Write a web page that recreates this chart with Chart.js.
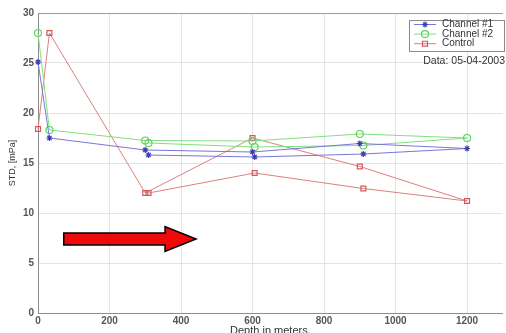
<!DOCTYPE html>
<html>
<head>
<meta charset="utf-8">
<script src="https://cdn.jsdelivr.net/npm/chart.js@4/dist/chart.umd.min.js"></script>
<style>
  html, body { margin: 0; padding: 0; background: #fff; overflow: hidden; }
  #wrap { width: 506px; height: 333px; overflow: hidden; }
</style>
</head>
<body>
<div id="wrap"><canvas id="stdChart" width="508" height="333"></canvas></div>
<script>
// depth path: down-cast then back up (same order for every series)
const depths   = [0, 32, 300, 600, 900, 1200, 910, 606, 309];
const channel1 = [25.1, 17.5, 16.3, 16.1, 16.95, 16.45, 15.9, 15.6, 15.8];
const channel2 = [28.0, 18.3, 17.25, 17.2, 17.9, 17.5, 16.75, 16.6, 17.0];
const control  = [18.4, 28.0, 12.0, 17.5, 14.65, 11.2, 12.45, 14.0, 12.0];

const xTicks = [0, 200, 400, 600, 800, 1000, 1200];
const yTicks = [0, 5, 10, 15, 20, 25, 30];

const seriesNames = ['Channel #1', 'Channel #2', 'Control'];
const dateNote = 'Data: 05-04-2003';

// arrow annotation, in data units
const arrowFrom = { x: 72, y: 7.4 };
const arrowTo   = { x: 442, y: 7.4 };

const FONT = '"Liberation Sans", Arial, sans-serif';

function pts(ys) {
    return depths.map((d, i) => ({ x: d, y: ys[i] }));
}

const styles = [
    { line: '#7878d4', mark: '#3c3cb4', style: 'star',   r: 3 },
    { line: '#80e080', mark: '#5ad45a', style: 'circle', r: 3.5 },
    { line: '#dc8080', mark: '#d45a5a', style: 'rect',   r: 3.5 }
];

function makeSet(label, ys, s) {
    return {
        label: label,
        data: pts(ys),
        showLine: true,
        borderColor: s.line,
        borderWidth: 1,
        tension: 0,
        pointStyle: s.style,
        pointRadius: s.r,
        pointBorderColor: s.mark,
        pointBackgroundColor: 'rgba(0,0,0,0)',
        pointBorderWidth: 1.2,
        clip: false
    };
}

const overlay = {
    id: 'overlay',
    afterDatasetsDraw(chart) {
        const ctx = chart.ctx;
        const xs = chart.scales.x, ys = chart.scales.y;
        const area = chart.chartArea;

        // red arrow
        const x0 = xs.getPixelForValue(arrowFrom.x);
        const x1 = xs.getPixelForValue(arrowTo.x);
        const cy = ys.getPixelForValue(arrowFrom.y);
        const bodyH = 6, headH = 12.5, headL = 31;
        ctx.save();
        ctx.beginPath();
        ctx.moveTo(x0, cy - bodyH);
        ctx.lineTo(x1 - headL, cy - bodyH);
        ctx.lineTo(x1 - headL, cy - headH);
        ctx.lineTo(x1, cy);
        ctx.lineTo(x1 - headL, cy + headH);
        ctx.lineTo(x1 - headL, cy + bodyH);
        ctx.lineTo(x0, cy + bodyH);
        ctx.closePath();
        ctx.fillStyle = '#ee0a0a';
        ctx.fill();
        ctx.lineWidth = 1.5;
        ctx.strokeStyle = '#000';
        ctx.stroke();
        ctx.restore();

        // legend box
        const lx = 409, ly = 20, lw = 95, lh = 31;
        ctx.save();
        ctx.fillStyle = '#fff';
        ctx.fillRect(lx, ly, lw, lh);
        ctx.strokeStyle = '#8a8a8a';
        ctx.lineWidth = 1;
        ctx.strokeRect(lx + 0.5, ly + 0.5, lw, lh);
        ctx.font = '10px ' + FONT;
        ctx.textBaseline = 'middle';
        seriesNames.forEach((name, i) => {
            const s = styles[i];
            const y = ly + 4.5 + i * 9.6;
            ctx.strokeStyle = s.line;
            ctx.lineWidth = 1;
            ctx.beginPath();
            ctx.moveTo(lx + 5, y);
            ctx.lineTo(lx + 27, y);
            ctx.stroke();
            ctx.save();
            ctx.strokeStyle = s.mark;
            ctx.fillStyle = 'rgba(0,0,0,0)';
            ctx.lineWidth = 1.2;
            Chart.helpers.drawPoint(ctx, { pointStyle: s.style, radius: s.r, borderWidth: 1.2 }, lx + 16, y);
            ctx.restore();
            ctx.fillStyle = '#333';
            ctx.fillText(name, lx + 33, y);
        });

        // date note
        ctx.font = '10.5px ' + FONT;
        ctx.fillStyle = '#333';
        ctx.textAlign = 'right';
        ctx.fillText(dateNote, 505, 61);

        // axis titles
        ctx.textAlign = 'center';
        ctx.font = '11px ' + FONT;
        ctx.fillText('Depth in meters.', (area.left + area.right) / 2, 331);
        ctx.translate(12.5, (area.top + area.bottom) / 2);
        ctx.rotate(-Math.PI / 2);
        ctx.font = '9px ' + FONT;
        ctx.fillText('STD, [mPa]', 0, 0);
        ctx.restore();
    }
};

const tickFont = { family: FONT, size: 10, weight: 'bold' };

new Chart(document.getElementById('stdChart'), {
    type: 'scatter',
    data: {
        datasets: [
            makeSet(seriesNames[0], channel1, styles[0]),
            makeSet(seriesNames[1], channel2, styles[1]),
            makeSet(seriesNames[2], control, styles[2])
        ]
    },
    options: {
        responsive: false,
        animation: false,
        devicePixelRatio: 1,
        layout: { padding: { top: 13, right: 1, left: 0, bottom: 0 } },
        plugins: {
            legend: { display: false },
            tooltip: { enabled: false }
        },
        scales: {
            x: {
                type: 'linear',
                min: 0,
                max: 1300,
                afterFit: s => { s.height = 20; },
                afterBuildTicks: s => { s.ticks = xTicks.map(v => ({ value: v })); },
                grid: { color: '#e4e4e4', drawTicks: false },
                border: { color: '#8c8c8c', width: 1 },
                ticks: { font: tickFont, color: '#555', padding: 2, maxRotation: 0, callback: v => String(v) }
            },
            y: {
                min: 0,
                max: 30,
                afterFit: s => { s.width = 38; },
                afterBuildTicks: s => { s.ticks = yTicks.map(v => ({ value: v })); },
                grid: {
                    color: c => (c.tick && c.tick.value === 30) ? '#9a9a9a' : '#e4e4e4',
                    drawTicks: false
                },
                border: { color: '#8c8c8c', width: 1 },
                ticks: { font: tickFont, color: '#555', padding: 4, callback: v => String(v) }
            }
        }
    },
    plugins: [overlay]
});
</script>
</body>
</html>
